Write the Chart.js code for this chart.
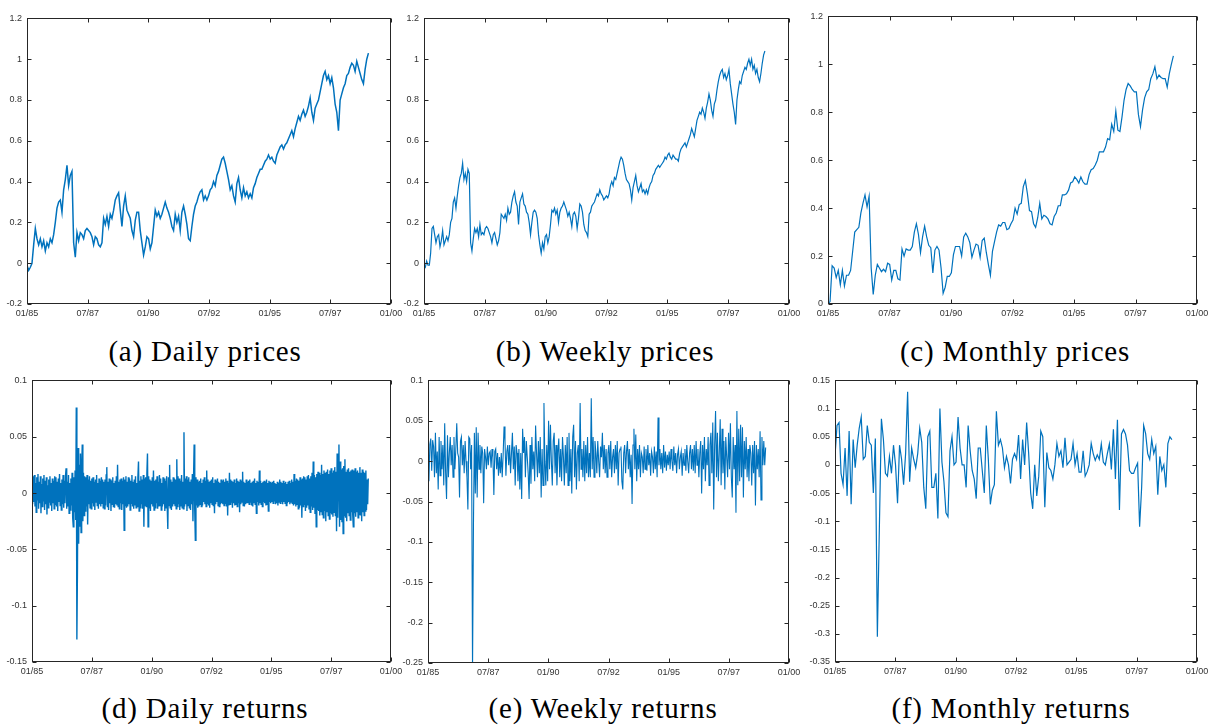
<!DOCTYPE html>
<html><head><meta charset="utf-8">
<script src="https://cdn.jsdelivr.net/npm/chart.js@4"></script>
<style>
body{margin:0;background:#fff;width:1212px;height:728px;position:relative;overflow:hidden}
canvas{position:absolute}
.cap{position:absolute;font-size:29px;line-height:29px;letter-spacing:.8px;color:#000;transform:translateX(-50%);white-space:nowrap}
</style></head><body>
<script>
// ---------- tick labels ----------
const xTickValues=[1985,1987.5,1990,1992.5,1995,1997.5,2000];
const xTickLabels=['01/85','07/87','01/90','07/92','01/95','07/97','01/00'];
const priceTicks=[-0.2,0,0.2,0.4,0.6,0.8,1,1.2];
const monthlyPriceTicks=[0,0.2,0.4,0.6,0.8,1,1.2];
const dailyReturnTicks=[-0.15,-0.1,-0.05,0,0.05,0.1];
const weeklyReturnTicks=[-0.25,-0.2,-0.15,-0.1,-0.05,0,0.05,0.1];
const monthlyReturnTicks=[-0.35,-0.3,-0.25,-0.2,-0.15,-0.1,-0.05,0,0.05,0.1,0.15];
const captions=['(a) Daily prices','(b) Weekly prices','(c) Monthly prices','(d) Daily returns','(e) Weekly returns','(f) Monthly returns'];

// ---------- sample periods (first and last date, decimal years) ----------
const dailyPriceRange=[1985,1999.07];
const weeklyPriceRange=[1985,1999.01];
const monthlyPriceRange=[1985,1999.04];
const dailyReturnRange=[1985,1999.05];
const weeklyReturnRange=[1985,1999.03];
const monthlyReturnRange=[1985,1998.96];

// ---------- series values ----------
const dailyPrices=[-0.01,-0.035,-0.02,0.00,0.09,0.17,0.12,0.09,0.12,0.08,
0.11,0.06,0.10,0.08,0.12,0.10,0.14,0.20,0.27,0.30,
0.31,0.25,0.36,0.41,0.48,0.38,0.43,0.45,0.10,0.03,
0.15,0.11,0.15,0.14,0.12,0.16,0.17,0.16,0.15,0.13,
0.09,0.13,0.12,0.09,0.08,0.10,0.22,0.19,0.23,0.18,
0.24,0.22,0.26,0.31,0.33,0.345,0.26,0.18,0.28,0.33,
0.26,0.24,0.22,0.16,0.13,0.21,0.25,0.25,0.16,0.10,
0.04,0.08,0.13,0.12,0.07,0.10,0.18,0.26,0.23,0.25,
0.22,0.24,0.27,0.30,0.27,0.25,0.22,0.18,0.16,0.24,
0.20,0.23,0.16,0.25,0.28,0.24,0.19,0.12,0.11,0.18,
0.24,0.28,0.30,0.33,0.35,0.36,0.31,0.33,0.31,0.33,
0.36,0.37,0.40,0.38,0.43,0.45,0.48,0.51,0.52,0.49,
0.45,0.41,0.36,0.38,0.33,0.30,0.39,0.42,0.36,0.32,
0.37,0.33,0.35,0.32,0.34,0.32,0.37,0.39,0.42,0.44,
0.46,0.46,0.48,0.50,0.51,0.53,0.51,0.52,0.50,0.49,
0.53,0.55,0.57,0.58,0.56,0.58,0.59,0.61,0.63,0.65,
0.62,0.66,0.69,0.72,0.70,0.73,0.75,0.72,0.74,0.77,
0.81,0.74,0.70,0.76,0.78,0.80,0.84,0.88,0.92,0.94,
0.90,0.92,0.88,0.91,0.86,0.78,0.74,0.65,0.80,0.83,
0.86,0.88,0.92,0.93,0.96,0.98,0.97,0.94,0.99,0.96,
0.93,0.90,0.88,0.95,1.00,1.03];

const weeklyPrices=[-0.01,-0.02,0.01,-0.01,-0.01,0.05,0.17,0.18,0.14,0.10,
0.13,0.14,0.08,0.11,0.16,0.09,0.11,0.13,0.11,0.14,
0.20,0.22,0.30,0.32,0.27,0.33,0.38,0.42,0.44,0.49,
0.41,0.44,0.40,0.46,0.44,0.10,0.06,0.12,0.17,0.15,
0.17,0.13,0.19,0.14,0.15,0.14,0.17,0.18,0.17,0.15,
0.13,0.10,0.14,0.15,0.12,0.09,0.11,0.15,0.24,0.23,
0.22,0.24,0.21,0.27,0.24,0.25,0.30,0.33,0.35,0.30,
0.28,0.19,0.30,0.32,0.34,0.29,0.28,0.25,0.24,0.20,
0.14,0.20,0.25,0.26,0.25,0.22,0.14,0.09,0.05,0.10,
0.07,0.13,0.14,0.10,0.13,0.19,0.26,0.25,0.27,0.24,
0.26,0.20,0.25,0.27,0.28,0.30,0.28,0.26,0.23,0.25,
0.22,0.18,0.24,0.25,0.23,0.17,0.22,0.29,0.28,0.25,
0.19,0.16,0.15,0.13,0.24,0.25,0.28,0.29,0.30,0.32,
0.34,0.33,0.36,0.34,0.33,0.31,0.32,0.33,0.32,0.34,
0.38,0.40,0.38,0.42,0.41,0.44,0.47,0.50,0.52,0.51,
0.48,0.44,0.41,0.40,0.39,0.36,0.31,0.37,0.40,0.43,
0.38,0.35,0.37,0.39,0.35,0.36,0.34,0.36,0.34,0.37,
0.39,0.40,0.43,0.44,0.46,0.47,0.48,0.47,0.48,0.49,
0.50,0.52,0.51,0.53,0.54,0.52,0.51,0.53,0.52,0.51,
0.51,0.50,0.54,0.56,0.57,0.58,0.59,0.57,0.59,0.61,
0.63,0.66,0.64,0.62,0.66,0.70,0.72,0.74,0.73,0.76,
0.74,0.71,0.76,0.79,0.83,0.80,0.75,0.72,0.78,0.80,
0.85,0.89,0.92,0.94,0.95,0.91,0.93,0.90,0.92,0.95,
0.88,0.83,0.78,0.74,0.68,0.80,0.85,0.89,0.88,0.92,
0.94,0.96,0.95,0.98,1.00,0.97,1.00,0.95,0.97,0.93,
0.95,0.91,0.89,0.93,0.98,1.02,1.04];

const monthlyPrices=[0.00,0.01,0.16,0.15,0.11,0.14,0.08,0.14,0.075,0.12,
0.12,0.14,0.22,0.30,0.31,0.32,0.38,0.42,0.455,0.405,
0.45,0.15,0.04,0.12,0.165,0.15,0.135,0.145,0.135,0.17,
0.165,0.10,0.14,0.14,0.105,0.10,0.23,0.20,0.23,0.225,
0.225,0.24,0.30,0.335,0.29,0.215,0.28,0.325,0.28,0.245,
0.235,0.13,0.225,0.24,0.225,0.15,0.045,0.07,0.115,0.115,
0.13,0.205,0.24,0.24,0.24,0.20,0.28,0.295,0.28,0.255,
0.195,0.225,0.25,0.245,0.195,0.265,0.275,0.215,0.165,0.12,
0.22,0.26,0.30,0.33,0.325,0.34,0.34,0.31,0.315,0.335,
0.35,0.40,0.375,0.415,0.42,0.49,0.515,0.46,0.39,0.385,
0.335,0.32,0.36,0.42,0.355,0.37,0.365,0.355,0.335,0.33,
0.365,0.38,0.41,0.41,0.455,0.455,0.46,0.475,0.505,0.51,
0.53,0.52,0.505,0.53,0.51,0.50,0.50,0.54,0.56,0.565,
0.58,0.60,0.635,0.635,0.635,0.655,0.69,0.685,0.75,0.72,
0.805,0.725,0.72,0.78,0.85,0.895,0.92,0.91,0.895,0.885,
0.885,0.79,0.74,0.81,0.86,0.885,0.895,0.94,0.96,0.99,
0.94,0.955,0.945,0.94,0.94,0.905,0.96,1.00,1.035];

const dailyReturns=[
.012,-.01,.015,-.008,.016,-.012,.009,-.017,.014,-.006,.017,-.014,.01,-.009,.015,-.018,.008,-.012,.013,-.007,.016,-.015,.011,-.01,.014,-.019,.007,-.013,.012,-.008,.015,-.011,.009,-.016,.013,-.009,.011,-.014,.015,-.01,
.014,-.012,.01,-.016,.013,-.008,.017,-.011,.009,-.015,.012,-.01,.016,-.013,.011,-.009,.015,.022,-.014,.01,-.012,.016,-.018,.009,-.015,.013,-.011,.018,-.022,-.03,.014,-.017,.02,-.024,.076,-.13,-.065,.04,-.045,.025,
-.03,.035,-.035,.02,.043,-.025,.018,-.02,.015,-.016,.014,-.012,.016,-.028,.012,-.01,.015,-.013,.011,-.014,.013,-.009,.014,-.012,.01,-.015,.012,-.008,.016,-.011,.009,-.014,.013,-.01,.011,-.012,.014,-.009,.012,-.013,
.01,-.014,.012,-.011,.016,.023,-.012,.01,-.015,.013,-.009,.012,-.016,.011,-.01,.014,-.012,.009,-.013,.011,-.01,.015,-.011,.025,-.012,.01,-.014,.012,-.009,.013,-.015,.011,-.01,.014,-.033,.012,-.011,.015,-.013,.01,
-.012,.014,-.01,.013,-.015,.011,-.009,.016,-.012,.01,-.014,.012,-.011,.015,-.013,.009,-.012,.014,.028,-.016,.011,-.013,.015,-.01,.012,-.014,.016,-.03,.013,-.011,.014,-.012,.017,.035,-.03,.015,-.013,.012,-.016,.011,
-.01,.014,-.012,.02,-.015,.011,-.013,.012,-.009,.015,-.014,.01,-.012,.016,-.011,.013,-.015,.009,-.012,.014,-.01,.013,-.016,.011,-.013,.015,-.012,-.032,.014,-.011,.025,-.013,.012,-.015,.01,-.012,.014,-.01,.013,-.011,
.012,-.014,.03,-.012,.015,-.01,.013,-.015,.011,-.012,.016,-.013,.01,-.014,.054,-.012,.013,-.01,.015,-.016,.012,-.011,.014,-.013,.01,-.015,.012,-.01,.017,-.025,.013,.043,-.015,-.042,.014,-.011,.012,-.013,.01,-.012,
.011,-.01,.013,-.012,.009,-.011,.012,-.008,.014,-.01,.011,-.012,.02,-.009,.012,-.011,.01,-.013,.011,-.009,.012,-.01,.014,-.011,.009,-.018,.012,-.01,.011,-.008,.013,-.011,.01,-.012,.009,-.01,.012,-.009,.011,-.01,
.012,-.011,.01,-.009,.013,-.012,.011,-.02,.009,-.011,.018,-.01,.012,-.008,.011,-.013,.01,-.009,.012,-.011,.009,-.01,.013,-.012,.011,-.009,.01,-.017,.012,-.01,.011,-.008,.019,-.011,.01,-.012,.009,-.01,.012,-.009,
.01,-.009,.011,-.01,.012,-.008,.009,-.011,.01,-.012,.011,-.009,.013,-.01,.009,-.018,.011,-.008,.01,-.011,.02,-.009,.011,-.01,.009,-.012,.01,-.008,.011,-.009,.01,-.011,.012,-.01,.009,-.016,.011,-.008,.01,-.009,
.009,-.008,.01,-.009,.011,-.007,.009,-.01,.008,-.009,.01,-.011,.009,-.008,.012,-.009,.01,-.008,.009,-.01,.011,-.008,.009,-.009,.01,-.011,.008,-.009,.01,-.008,.011,-.01,.009,-.008,.012,-.009,.01,-.011,.017,-.01,
.011,-.012,.013,-.01,.012,-.014,.011,-.013,.014,-.011,.012,-.022,.013,-.012,.015,-.01,.014,-.016,.012,-.013,.015,-.011,.016,-.014,.013,-.017,.015,-.012,.018,-.015,.028,-.013,.016,-.018,.014,-.03,.017,-.015,.019,-.016,
.018,-.02,.016,-.017,.025,-.019,.017,-.022,.02,-.016,.018,-.025,.019,-.017,.021,-.02,.017,-.023,.02,-.018,.022,-.019,.018,-.021,.02,-.017,.023,-.02,.019,-.034,.035,-.022,.025,.043,-.03,.028,-.024,.021,-.026,.022,
-.036,.024,-.02,.03,-.022,.019,-.025,.021,-.018,.022,-.02,.019,-.024,.02,-.017,.021,-.019,-.03,.02,-.018,.022,-.021,.019,-.017,.02,-.022,.018,-.019,.023,-.02,.018,-.025,.021,-.017,.019,-.02,.018,-.016,.02,-.015,
.012,-.01,.013];

const weeklyReturns=[
0.005,-0.025,0.021,0.028,-0.012,0.026,0.018,-0.02,0.035,-0.015,0.012,-0.035,0.03,-0.018,0.025,-0.01,0.02,-0.03,0.047,-0.015,-0.047,0.032,-0.02,0.01,0.03,-0.005,
0.02,-0.02,0.03,-0.01,0.015,0.047,0.01,0.005,-0.045,0.025,0.03,-0.005,0.02,-0.015,0.025,0.0,-0.02,-0.06,0.03,0.028,-0.01,0.02,-0.26,-0.08,0.035,-0.04,
0.042,-0.045,0.035,-0.01,0.02,-0.015,0.018,0.01,-0.052,0.015,0.005,-0.01,0.018,-0.005,0.01,0.012,-0.008,0.015,0.005,-0.042,0.012,0.015,-0.01,0.01,-0.018,0.005,
-0.015,0.01,-0.02,0.008,0.043,0.025,-0.018,0.012,0.02,-0.005,0.02,-0.015,0.01,0.035,-0.01,0.018,-0.03,0.02,0.01,-0.025,0.015,-0.035,0.01,-0.047,0.04,0.01,
0.03,-0.02,0.025,0.005,-0.015,-0.047,0.02,-0.028,0.03,-0.01,0.012,-0.025,0.044,0.01,-0.02,0.025,-0.015,0.03,-0.045,0.015,-0.03,0.072,0.0,-0.03,0.02,-0.025,
0.05,-0.01,0.045,0.0,-0.03,0.025,0.035,-0.015,0.02,-0.03,0.01,0.028,-0.02,0.015,-0.025,0.03,0.005,-0.03,0.02,-0.015,0.03,-0.03,0.035,-0.025,0.015,-0.04,
0.03,0.045,-0.02,0.025,-0.035,0.01,0.02,-0.025,0.072,-0.01,0.015,-0.02,0.025,-0.025,0.02,-0.015,0.03,-0.02,0.01,-0.02,0.078,-0.01,0.03,-0.02,0.025,0.01,
-0.015,0.025,0.0,-0.02,0.018,0.005,0.035,-0.01,0.02,-0.015,0.015,-0.02,0.01,0.02,-0.01,0.025,-0.02,0.005,0.015,-0.015,0.02,-0.01,0.025,-0.03,0.01,0.015,
0.018,-0.025,-0.035,0.01,0.02,-0.015,0.012,0.025,-0.01,0.015,-0.02,0.008,-0.053,0.02,0.04,-0.01,0.033,-0.025,0.015,-0.01,0.02,-0.02,0.01,0.005,-0.015,0.018,
-0.01,0.015,-0.012,0.02,-0.005,0.01,-0.018,0.012,0.005,-0.015,0.018,-0.01,0.012,-0.02,0.054,-0.005,0.015,-0.01,0.01,-0.015,0.02,-0.008,0.012,-0.012,0.008,-0.005,
0.012,-0.01,0.015,0.0,-0.012,0.018,-0.005,0.01,-0.015,0.008,0.015,-0.01,0.005,0.012,-0.018,0.01,-0.005,0.015,-0.012,0.02,0.0,-0.015,0.01,0.02,-0.01,0.015,
-0.012,0.02,-0.015,0.025,-0.005,0.015,-0.02,0.01,0.025,-0.04,0.02,-0.01,0.03,-0.025,0.015,-0.005,0.03,-0.03,0.02,0.035,-0.015,0.048,-0.06,0.02,0.062,-0.02,
0.035,-0.025,0.01,0.052,-0.03,0.04,-0.015,0.025,-0.035,0.03,0.005,-0.02,0.035,-0.01,0.047,-0.02,-0.045,0.03,-0.01,0.02,-0.064,0.062,-0.03,0.04,-0.025,0.045,
-0.02,0.042,-0.045,0.025,-0.01,0.03,-0.02,0.015,-0.025,0.02,0.01,-0.03,0.02,-0.015,0.025,-0.055,0.02,-0.01,0.015,-0.02,0.037,-0.048,0.03,-0.005,0.025,-0.005,
0.017];

const monthlyReturns=[0.015,0.07,0.075,-0.015,-0.035,0.03,-0.055,0.06,-0.07,0.045,
-0.005,0.035,0.065,0.085,0.01,0.015,0.07,0.04,0.035,-0.05,
0.047,-0.305,-0.11,0.082,0.045,-0.015,-0.02,0.015,-0.015,0.035,
0.0,-0.068,0.035,0.01,-0.035,0.02,0.13,-0.03,0.03,0.01,
-0.005,0.02,0.065,0.04,-0.04,-0.078,0.05,0.06,-0.04,-0.04,
-0.015,-0.095,0.10,0.005,-0.03,-0.085,-0.092,0.025,0.05,0.0,
0.005,0.085,0.03,0.0,0.0,-0.04,0.07,0.025,-0.01,-0.025,
-0.06,0.03,0.03,-0.01,-0.05,0.07,0.01,-0.07,-0.045,-0.035,
0.095,0.035,0.045,0.03,-0.005,0.015,0.0,-0.033,0.01,0.02,
0.01,0.053,-0.025,0.045,0.0,0.075,0.02,-0.05,-0.078,0.0,
-0.055,-0.02,0.06,0.05,-0.075,0.022,-0.005,-0.01,-0.025,0.0,
0.038,0.015,0.025,-0.005,0.048,0.0,0.005,0.01,0.038,0.0,
0.02,-0.013,-0.013,0.025,-0.02,-0.012,0.0,0.038,0.02,0.008,
0.018,0.01,0.037,0.005,0.0,0.02,0.037,-0.008,0.063,-0.025,
0.08,-0.08,0.055,0.063,0.055,0.035,-0.01,-0.015,-0.015,-0.005,
0.003,-0.11,-0.04,0.07,0.055,0.02,0.01,0.045,0.02,0.033,
-0.053,0.015,-0.01,0.0,-0.04,0.038,0.05,0.045];

// ---------- pick an installed serif face for the captions ----------
const serifCandidates=['Liberation Serif','DejaVu Serif','Tinos','Noto Serif','Times New Roman','Times','Nimbus Roman','Nimbus Roman No9 L','FreeSerif','Georgia'];
function hasFont(name){
  const cv=document.createElement('canvas').getContext('2d');
  const s='(a) Daily prices mmmWWWiii';
  return ['monospace','sans-serif'].some(fb=>{
    cv.font='40px '+fb; const w0=cv.measureText(s).width;
    cv.font='40px "'+name+'", '+fb; const w1=cv.measureText(s).width;
    return Math.abs(w1-w0)>0.5;
  });
}
const availableSerif=serifCandidates.filter(hasFont);
const captionFamily=(availableSerif.length?'"'+availableSerif[0]+'", ':'')+'serif';

// ---------- drawing ----------
const LINE='#0072BD', AXIS='#262626', LABEL='#333333';
function dateAxis(range,n){return Array.from({length:n},(_,i)=>range[0]+(range[1]-range[0])*i/(n-1));}

const frame={id:'frame',afterDraw(chart){
  const {ctx,chartArea:a,scales:{x,y}}=chart;
  const l=Math.round(a.left)+0.5,r=Math.round(a.right)-0.5,t=Math.round(a.top)+0.5,b=Math.round(a.bottom)-0.5;
  const TL=4;
  ctx.save();ctx.strokeStyle=AXIS;ctx.lineWidth=1;
  ctx.strokeRect(l,t,r-l,b-t);
  ctx.beginPath();
  x.ticks.forEach(tk=>{const px=Math.round(x.getPixelForValue(tk.value))+0.5;ctx.moveTo(px,b);ctx.lineTo(px,b-TL);ctx.moveTo(px,t);ctx.lineTo(px,t+TL);});
  y.ticks.forEach(tk=>{const py=Math.round(y.getPixelForValue(tk.value))+0.5;ctx.moveTo(l,py);ctx.lineTo(l+TL,py);ctx.moveTo(r,py);ctx.lineTo(r-TL,py);});
  ctx.stroke();ctx.restore();
}};

const panels=[
 {L:27,R:391,T:16,B:304,vals:dailyPrices,range:dailyPriceRange,yt:priceTicks,lw:1.5,cx:205,cy:337,cap:captions[0]},
 {L:424,R:789,T:16,B:304,vals:weeklyPrices,range:weeklyPriceRange,yt:priceTicks,lw:1.2,cx:605,cy:337,cap:captions[1]},
 {L:828,R:1197,T:14,B:304,vals:monthlyPrices,range:monthlyPriceRange,yt:monthlyPriceTicks,lw:1.2,cx:1015,cy:337,cap:captions[2]},
 {L:32,R:391,T:378,B:662,vals:dailyReturns,range:dailyReturnRange,yt:dailyReturnTicks,lw:1.4,cx:205,cy:694,cap:captions[3]},
 {L:428,R:789,T:378,B:663,vals:weeklyReturns,range:weeklyReturnRange,yt:weeklyReturnTicks,lw:1.1,cx:603,cy:694,cap:captions[4]},
 {L:835,R:1197,T:378,B:662,vals:monthlyReturns,range:monthlyReturnRange,yt:monthlyReturnTicks,lw:1.2,cx:1011,cy:694,cap:captions[5]}
];

const font={family:'"Liberation Sans", Arial, Helvetica, sans-serif',size:9};
panels.forEach(p=>{
  const YW=34,PT=8,PR=20,XH=18;
  const w=YW+(p.R-p.L)+PR,h=PT+(p.B-p.T)+XH;
  const c=document.createElement('canvas');
  c.width=w;c.height=h;
  c.style.left=(p.L-YW)+'px';c.style.top=(p.T-PT)+'px';
  c.style.width=w+'px';c.style.height=h+'px';
  document.body.appendChild(c);
  const dates=dateAxis(p.range,p.vals.length);
  new Chart(c,{
    type:'line',
    data:{datasets:[{data:p.vals.map((v,i)=>({x:dates[i],y:v})),borderColor:LINE,borderWidth:p.lw,pointRadius:0,fill:false,tension:0}]},
    options:{
      responsive:false,animation:false,devicePixelRatio:1,
      layout:{padding:{left:0,top:PT,right:PR,bottom:0}},
      plugins:{legend:{display:false},tooltip:{enabled:false}},
      scales:{
        x:{type:'linear',min:xTickValues[0],max:xTickValues[xTickValues.length-1],
           afterBuildTicks(s){s.ticks=xTickValues.map(v=>({value:v}));},
           afterFit(s){s.height=XH;},
           grid:{display:false,drawTicks:false},border:{display:false},
           ticks:{color:LABEL,font,maxRotation:0,minRotation:0,autoSkip:false,padding:4,callback:(v,i)=>xTickLabels[i]}},
        y:{type:'linear',min:p.yt[0],max:p.yt[p.yt.length-1],
           afterBuildTicks(s){s.ticks=p.yt.map(v=>({value:v}));},
           afterFit(s){s.width=YW;},
           grid:{display:false,drawTicks:false},border:{display:false},
           ticks:{color:LABEL,font,padding:5,callback:(v,i)=>String(p.yt[i])}}
      }
    },
    plugins:[frame]
  });
  const d=document.createElement('div');
  d.className='cap';d.textContent=p.cap;
  d.style.fontFamily=captionFamily;
  d.style.left=p.cx+'px';d.style.top=p.cy+'px';
  document.body.appendChild(d);
});
console.error('serif fonts found: '+JSON.stringify(availableSerif));
</script>
</body></html>
